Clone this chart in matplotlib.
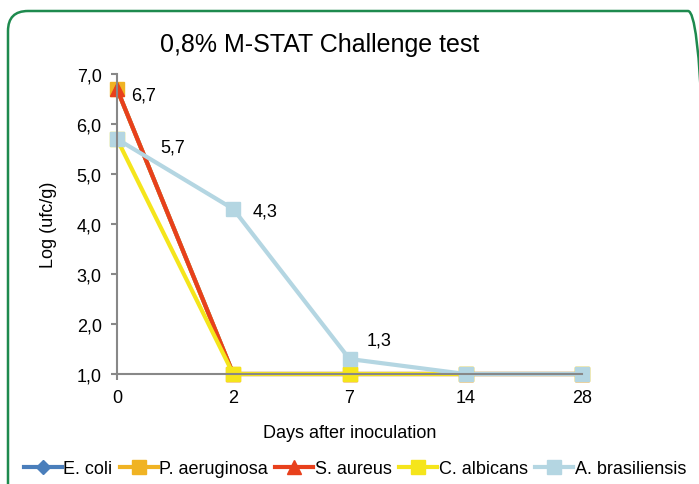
import matplotlib.pyplot as plt
from matplotlib.patches import FancyBboxPatch

days = ["0", "2", "7", "14", "28"]
e_coli = [6.7, 1.0, 1.0, 1.0, 1.0]
p_aeruginosa = [6.7, 1.0, 1.0, 1.0, 1.0]
s_aureus = [6.7, 1.0, 1.0, 1.0, 1.0]
c_albicans = [5.7, 1.0, 1.0, 1.0, 1.0]
a_brasiliensis = [5.7, 4.3, 1.3, 1.0, 1.0]

series = [
    ("E. coli", e_coli, "#4a7ebb", "D", 7),
    ("P. aeruginosa", p_aeruginosa, "#f0b323", "s", 10),
    ("S. aureus", s_aureus, "#e8401c", "^", 10),
    ("C. albicans", c_albicans, "#f5e51b", "s", 10),
    ("A. brasiliensis", a_brasiliensis, "#b4d6e2", "s", 10),
]

plt.rcParams['font.family'] = ['Liberation Sans', 'DejaVu Sans']
fig = plt.figure(figsize=(6.99, 4.85), dpi=100)

# green rounded frame (inches)
frame = FancyBboxPatch((0.08, -0.3), 7.0, 4.73 + 0.3,
                       boxstyle="round,pad=0,rounding_size=0.2",
                       transform=fig.dpi_scale_trans, fill=False,
                       edgecolor="#1e8a4e", linewidth=1.8, clip_on=False)
fig.patches.append(frame)

ax = fig.add_axes([117 / 699, 1 - 375 / 485, 465 / 699, 300 / 485])
x = list(range(len(days)))
for name, vals, col, mk, ms in series:
    ax.plot(x, vals, color=col, marker=mk, markersize=ms, linewidth=3,
            label=name, clip_on=False)

ax.set_xlim(0, 4)
ax.set_ylim(1, 7)
ax.set_xticks(x)
ax.set_xticklabels(days)
yt = [1, 2, 3, 4, 5, 6, 7]
ax.set_yticks(yt)
ax.set_yticklabels([("%.1f" % v).replace(".", ",") for v in yt])
for s in ["top", "right"]:
    ax.spines[s].set_visible(False)
for s in ["left", "bottom"]:
    ax.spines[s].set_color("#888888")
    ax.spines[s].set_linewidth(1.5)
ax.tick_params(axis="both", colors="#888888", labelcolor="black", labelsize=13,
               length=4, width=1.5, pad=7)

# value labels
ax.annotate("6,7", (0, 6.7), xytext=(10, -4), textcoords="offset points", fontsize=13, va="center")
ax.annotate("5,7", (0, 5.7), xytext=(31, -6), textcoords="offset points", fontsize=13, va="center")
ax.annotate("4,3", (1, 4.3), xytext=(14, -1.5), textcoords="offset points", fontsize=13, va="center")
ax.annotate("1,3", (2, 1.3), xytext=(12, 14), textcoords="offset points", fontsize=13, va="center")

ax.set_xlabel("Days after inoculation", fontsize=13, labelpad=13)
ax.set_ylabel("Log (ufc/g)", fontsize=13, labelpad=14)
fig.text(320 / 699, 1 - 45 / 485, "0,8% M-STAT Challenge test", fontsize=18,
         ha="center", va="center")

fig.legend(loc="center", bbox_to_anchor=(355 / 699, 1 - 470 / 485), ncol=5,
           frameon=False, fontsize=13, handlelength=2.1, handletextpad=0.1,
           columnspacing=0.4)

fig.savefig("out.png", dpi=100)
